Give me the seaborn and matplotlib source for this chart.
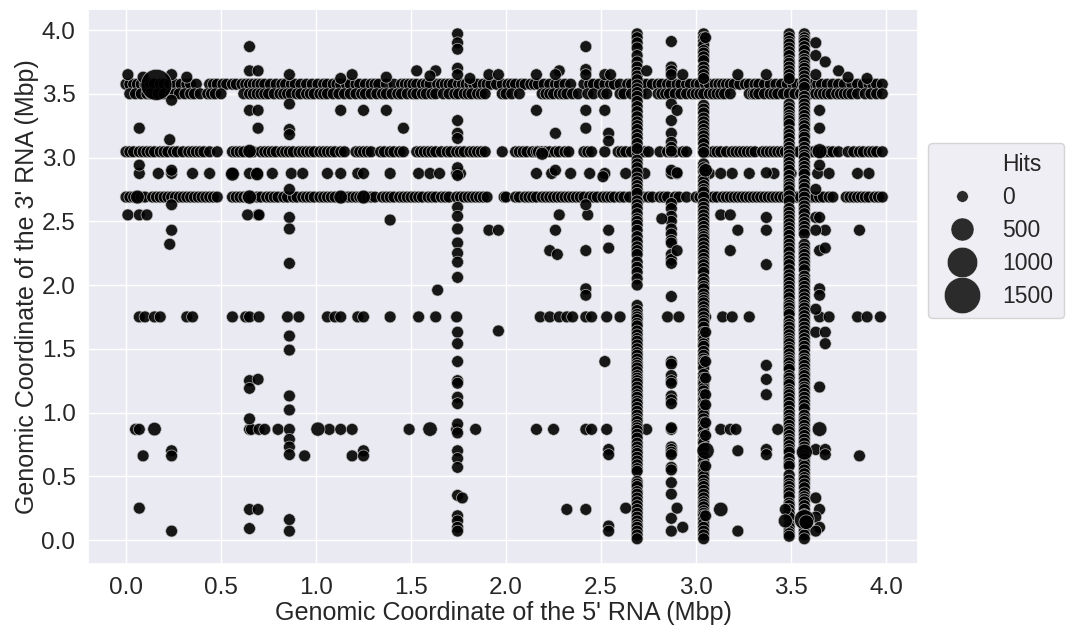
import matplotlib
matplotlib.use("Agg")
import matplotlib.pyplot as plt
from matplotlib.lines import Line2D
import pandas as pd
import seaborn as sns

# horizontal bands: x positions (Mbp) at a fixed 3' coordinate
band_357 = [0.0,.02,.04,.06,.08,.10,.13,.15,.18,.20,.23,.26,.29,.32,.34,.37,.44,.46,.48,.51,.53,.56,.58,.61,.63,.65,.67,.69,.71,.73,.76,.79,.82,.84,.87,.89,.92,.95,.98,1.01,1.04,1.06,1.09,1.11,1.13,1.16,1.18,1.21,1.23,1.26,1.29,1.31,1.33,1.37,1.41,1.45,1.47,1.49,1.51,1.53,1.56,1.58,1.60,1.64,1.66,1.68,1.70,1.72,1.75,1.77,1.79,1.81,1.83,1.85,1.88,1.90,1.92,1.95,1.98,2.01,2.03,
            2.05,2.08,2.10,2.13,2.15,2.17,2.20,2.23,2.26,2.28,2.31,2.34,2.41,2.44,2.46,2.49,2.52,2.55,2.57,2.60,2.64,2.66,2.69,2.72,2.74,2.77,2.80,2.82,2.85,2.87,2.90,2.92,2.95,2.97,3.00,3.02,3.05,3.07,3.10,3.12,3.14,3.16,3.18,3.20,3.23,3.26,3.28,3.31,3.33,3.36,3.39,3.42,3.45,3.48,3.51,3.53,3.56,3.59,3.61,3.64,3.66,3.69,3.72,3.75,3.78,3.82,3.85,3.88,3.91,3.93,3.95,3.98]
band_350 = [.02,.05,.08,.11,.13,.17,.20,.24,.26,.28,.31,.34,.36,.39,.43,.45,.47,.50,.62,.65,.67,.69,.71,.73,.75,.78,.81,.83,.85,.87,.90,.92,.95,.97,.99,1.02,1.04,1.06,1.09,1.12,1.15,1.18,1.21,1.24,1.26,1.29,1.32,1.35,1.37,1.40,1.43,1.45,1.48,1.51,1.53,1.56,1.58,1.61,1.63,1.67,1.70,1.73,1.75,1.78,1.80,1.82,1.85,1.87,1.89,1.98,2.0,2.03,
            2.07,2.19,2.21,2.23,2.25,2.28,2.30,2.32,2.35,2.38,2.43,2.46,2.51,2.53,2.60,2.62,2.66,2.69,2.71,2.74,2.80,2.82,2.84,2.86,2.89,2.92,2.95,2.98,3.00,3.02,3.04,3.07,3.09,3.11,3.13,3.15,3.18,3.28,3.30,3.31,3.33,3.36,3.39,3.41,3.43,3.46,3.49,3.52,3.55,3.57,3.60,3.63,3.65,3.67,3.69,3.71,3.74,3.76,3.78,3.80,3.82,3.85,3.89,3.92,3.95,3.98]
band_304 = [0,.02,.04,.07,.09,.11,.13,.15,.18,.20,.22,.25,.27,.30,.33,.35,.37,.39,.41,.44,.48,.56,.58,.60,.62,.65,.67,.71,.73,.75,.77,.79,.82,.84,.86,.88,.91,.93,.95,.97,.99,1.02,1.04,1.06,1.08,1.10,1.13,1.15,1.21,1.23,1.25,1.27,1.29,1.34,1.36,1.39,1.41,1.44,1.46,1.53,1.55,1.57,1.59,1.61,1.63,1.66,1.69,1.71,1.74,1.76,1.78,1.81,1.83,1.85,1.87,1.89,1.98,
            2.05,2.07,2.09,2.11,2.14,2.16,2.17,2.19,2.21,2.23,2.26,2.28,2.31,2.33,2.41,2.43,2.45,2.52,2.59,2.61,2.63,2.66,2.69,2.71,2.73,2.75,2.81,2.85,2.87,2.89,2.93,2.95,3.04,3.06,3.09,3.11,3.13,3.16,3.19,3.21,3.23,3.25,3.27,3.29,3.31,3.35,3.37,3.39,3.41,3.43,3.45,3.47,3.49,3.51,3.54,3.57,3.60,3.62,3.64,3.66,3.68,3.70,3.72,3.75,3.80,3.83,3.86,3.88,3.91,3.93,3.95,3.98]
band_287 = [.07,.17,.24,.35,.44,.56,.65,.69,.77,.87,.93,1.06,1.13,1.22,1.25,1.39,1.54,1.60,1.65,1.74,1.76,
            2.16,2.24,2.34,2.44,2.52,2.63,2.69,2.73,2.87,2.90,3.05,3.07,3.13,3.19,3.28,3.41,3.50,3.57,3.64,3.70,3.85,3.91]
band_269 = [0,.02,.04,.06,.08,.10,.14,.16,.18,.20,.22,.24,.26,.28,.30,.32,.34,.36,.38,.40,.42,.44,.46,.48,.56,.58,.60,.62,.64,.66,.69,.71,.74,.76,.78,.80,.83,.85,.88,.90,.93,.95,.97,.99,1.02,1.04,1.06,1.08,1.10,1.13,1.15,1.17,1.19,1.21,1.23,1.25,1.27,1.29,1.31,1.35,1.37,1.39,1.41,1.44,1.46,1.48,1.50,1.52,1.54,1.56,1.59,1.61,1.63,1.66,1.68,1.70,1.74,1.76,1.78,1.80,1.82,1.84,1.86,1.88,1.90,1.99,
            2.0,2.05,2.07,2.10,2.12,2.14,2.16,2.19,2.21,2.23,2.25,2.27,2.29,2.31,2.33,2.35,2.37,2.39,2.41,2.44,2.46,2.48,2.51,2.53,2.55,2.57,2.60,2.62,2.65,2.69,2.72,2.75,2.77,2.81,2.83,2.85,2.89,2.91,2.95,3.0,3.02,3.04,3.06,3.09,3.11,3.14,3.16,3.18,3.20,3.22,3.24,3.26,3.28,3.30,3.32,3.34,3.36,3.38,3.40,3.42,3.44,3.46,3.48,3.51,3.53,3.55,3.57,3.59,3.61,3.63,3.65,3.67,3.70,3.72,3.79,3.81,3.83,3.85,3.87,3.89,3.91,3.94,3.96,3.98]
band_175 = [.07,.10,.15,.18,.32,.35,.56,.63,.65,.70,.85,.91,1.06,1.10,1.13,1.22,1.25,1.39,1.54,1.63,1.74,
            2.18,2.23,2.28,2.32,2.35,2.42,2.45,2.53,2.60,2.69,2.85,2.91,3.05,3.14,3.19,3.28,3.57,3.65,3.70,3.85,3.90,3.97]
band_087 = [.05,.07,.65,.66,.70,.73,.80,.86,1.07,1.13,1.19,1.49,1.74,1.84,
            2.16,2.25,2.42,2.45,2.53,2.69,2.74,2.87,3.13,3.18,3.21,3.43]

# vertical bands: y positions (Mbp) at a fixed 5' coordinate
col_269 = [3.97,3.94,3.90,3.86,3.80,3.75,3.71,3.67,3.64,3.61,3.57,3.54,3.51,3.48,3.44,3.40,3.36,3.32,3.28,3.25,3.22,3.18,3.15,3.11,3.07,2.98,2.95,2.92,2.88,2.84,2.81,2.78,2.75,2.72,2.66,2.63,2.60,2.56,2.52,2.50,2.47,2.43,2.38,2.34,2.30,2.27,2.24,2.18,2.14,2.10,2.05,2.0,
           1.84,1.80,1.77,1.75,1.73,1.70,1.68,1.64,1.61,1.58,1.56,1.53,1.50,1.47,1.45,1.42,1.39,1.37,1.35,1.32,1.29,1.27,1.25,1.23,1.20,1.17,1.14,1.12,1.09,1.07,1.04,1.01,.98,.95,.93,.90,.88,.86,.83,.80,.76,.73,.70,.68,.65,.62,.59,.56,.54,.46,.44,.42,.38,.36,.33,.30,.27,.24,.21,.18,.15,.12,.10,.07,.04,.01]
col_287 = [3.91,3.71,3.68,3.65,3.42,3.29,3.19,3.12,3.08,3.05,2.90,2.64,2.60,2.54,2.50,2.44,2.40,2.35,2.33,2.24,2.20,2.17,
           1.91,1.40,1.38,1.29,1.25,1.23,1.13,1.10,1.07,.88,.73,.71,.69,.67,.57,.55,.45,.36,.17,.07]
col_304 = [3.97,3.94,3.91,3.88,3.84,3.82,3.79,3.76,3.71,3.68,3.65,3.62,3.41,3.38,3.35,3.31,3.28,3.25,3.22,3.19,3.17,3.14,3.11,3.07,3.04,2.95,2.92,2.89,2.84,2.81,2.78,2.75,2.73,2.69,2.64,2.61,2.58,2.55,2.52,2.49,2.46,2.43,2.40,2.38,2.36,2.33,2.30,2.27,2.24,2.21,2.18,2.16,2.13,2.10,2.05,2.02,1.99,
           1.97,1.93,1.90,1.88,1.86,1.83,1.80,1.78,1.75,1.72,1.70,1.67,1.63,1.60,1.57,1.54,1.52,1.48,1.45,1.42,1.40,1.38,1.35,1.30,1.27,1.24,1.22,1.19,1.17,1.14,1.11,1.09,1.06,1.04,1.01,.98,.95,.92,.89,.86,.82,.78,.76,.72,.65,.62,.58,.55,.53,.50,.47,.44,.42,.39,.36,.33,.30,.28,.26,.23,.21,.19,.16,.13,.10,.07,.04,.01]
col_349 = [3.97,3.94,3.91,3.89,3.86,3.83,3.80,3.76,3.74,3.71,3.68,3.65,3.62,3.42,3.39,3.36,3.33,3.31,3.29,3.26,3.21,3.18,3.15,3.11,3.08,3.05,3.02,2.99,2.96,2.93,2.90,2.86,2.82,2.79,2.77,2.74,2.70,2.66,2.60,2.57,2.54,2.51,2.48,2.45,2.42,2.39,2.35,2.32,2.29,2.26,2.22,2.19,2.16,2.12,2.08,2.05,2.02,1.99,
           1.96,1.93,1.90,1.86,1.84,1.82,1.79,1.77,1.72,1.69,1.67,1.64,1.61,1.58,1.56,1.54,1.51,1.49,1.46,1.43,1.41,1.39,1.36,1.34,1.29,1.27,1.24,1.22,1.18,1.16,1.14,1.11,1.08,1.05,1.01,.98,.95,.93,.90,.87,.85,.82,.79,.77,.74,.71,.69,.64,.60,.58,.51,.47,.44,.42,.39,.37,.34,.29,.27,.24,.21,.18,.12,.10,.07,.05,.03]
col_357 = [3.97,3.94,3.92,3.90,3.87,3.84,3.80,3.77,3.75,3.72,3.70,3.67,3.64,3.61,3.58,3.55,3.48,3.45,3.42,3.39,3.36,3.33,3.30,3.27,3.25,3.22,3.18,3.16,3.12,3.08,3.05,3.02,3.00,2.96,2.93,2.90,2.87,2.82,2.79,2.76,2.72,2.69,2.65,2.62,2.59,2.56,2.52,2.49,2.46,2.43,2.40,2.32,2.29,2.26,2.24,2.21,2.18,2.15,2.12,2.07,2.04,2.02,1.99,
           1.96,1.93,1.90,1.87,1.84,1.82,1.79,1.76,1.73,1.70,1.67,1.64,1.61,1.58,1.55,1.52,1.49,1.45,1.42,1.40,1.37,1.34,1.31,1.29,1.26,1.23,1.20,1.18,1.15,1.12,1.09,1.06,1.03,.98,.95,.93,.90,.87,.85,.82,.79,.76,.73,.70,.66,.64,.61,.58,.55,.52,.49,.47,.44,.41,.37,.34,.32,.30,.27,.24,.20,.12,.10,.07,.04,.01]
col_175 = [3.97,3.90,3.85,3.70,3.65,3.29,3.19,3.15,2.92,2.86,2.61,2.54,2.44,2.33,2.25,2.18,2.06,
           1.63,1.54,1.40,1.25,1.23,1.12,1.07,.91,.84,.70,.64,.57,.35,.19,.15,.10,.07]
col_086 = [3.65,3.42,3.22,3.18,2.75,2.53,2.44,2.17,1.60,1.49,1.13,1.02,.79,.73,.67,.16,.07]
col_065 = [3.87,3.68,3.37,1.25,1.19,.95,.24,.09]
col_069 = [3.68,3.37,3.23,2.55,1.26,.24]

# scattered single hits
misc_x = [.01,.09,.24,.32,.24,.07,.23,.07,.24,.01,.07,.11,.24,.24,.23,.64,.70,1.39,1.13,1.19,1.37,1.53,1.63,1.60,1.13,1.25,1.37,1.46,1.81,1.91,1.96,1.91,1.96,1.64,1.96,
          2.16,2.28,2.26,2.42,2.42,2.42,2.52,2.55,2.16,2.42,2.52,2.26,2.42,2.54,2.54,2.74,3.22,3.37,3.63,3.63,3.68,3.75,3.80,3.90,3.63,3.65,3.65,3.65,3.63,
          2.28,2.43,2.42,3.13,3.18,3.37,3.63,3.65,2.26,2.54,3.22,3.37,3.68,3.63,3.86,2.23,2.27,2.42,2.54,3.18,3.37,3.65,3.68,2.42,3.65,
          2.42,3.65,3.63,3.63,3.68,3.68,2.52,3.37,3.37,3.37,3.65,2.54,2.54,3.22,3.37,3.37,3.63,3.68,3.68,3.86,2.32,2.42,2.63,2.54,2.54,3.22,
          3.63,3.65,3.63,3.65,3.63,3.47,2.26,3.37,2.51,2.82,2.90,2.93,2.90,2.90,2.90,2.93,
          .07,.24,.09,.24,.24,.94,1.19,1.25,1.25,1.77,3.05,3.05,3.05,3.05,3.05,3.05,3.05,3.05,3.05,3.05]
misc_y = [3.65,3.63,3.65,3.63,3.45,3.23,3.14,2.94,2.90,2.55,2.55,2.55,2.63,2.43,2.32,2.55,2.55,2.51,3.62,3.65,3.63,3.68,3.68,3.64,3.37,3.37,3.37,3.23,3.62,3.65,3.65,2.43,2.43,1.96,1.64,
          3.65,3.68,3.65,3.87,3.69,3.65,3.65,3.65,3.37,3.37,3.37,3.19,3.23,3.19,3.13,3.68,3.65,3.65,3.90,3.80,3.75,3.68,3.63,3.62,3.65,3.37,3.23,2.94,2.75,
          2.55,2.55,2.63,2.55,2.55,2.53,2.53,2.53,2.43,2.43,2.43,2.43,2.43,2.43,2.43,2.27,2.24,2.27,2.29,2.27,2.16,2.27,2.29,1.97,1.97,
          1.92,1.92,1.81,1.63,1.63,1.54,1.40,1.37,1.26,1.14,1.20,.71,.67,.70,.71,.67,.71,.71,.67,.66,.24,.24,.25,.11,.07,.07,
          .33,.24,.18,.10,.07,.24,2.90,2.88,2.85,2.52,3.37,3.65,2.88,2.27,.25,.10,
          .25,.07,.66,.70,.66,.66,.66,.70,.66,.33,3.94,1.63,1.40,1.27,1.14,1.06,.92,.82,.58,.19]

# larger points
large_x = [.16,.65,.06,1.13,1.25,.56,.69,.15,1.01,1.60,3.65,3.05,3.57,3.57,3.13,3.47,3.65,2.19,.65,3.05,3.58]
large_y = [3.57,3.05,2.69,2.69,2.69,2.87,2.87,.87,.87,.87,.87,.70,.69,.16,.24,.15,3.05,3.03,2.69,2.90,.14]
large_hits = [1050,60,70,70,70,70,50,60,80,90,100,200,150,330,90,80,110,40,80,60,100]

base_hits = 5


def mark_size(h):
    return 70 + 0.41 * h


xs, ys, hits = [], [], []
for yval, vals in [(3.575, band_357), (3.50, band_350), (3.045, band_304), (2.875, band_287),
                   (2.69, band_269), (1.75, band_175), (.868, band_087)]:
    xs += vals; ys += [yval] * len(vals); hits += [base_hits] * len(vals)
for xval, vals in [(2.69, col_269), (2.87, col_287), (3.04, col_304), (3.49, col_349),
                   (3.57, col_357), (1.745, col_175), (.86, col_086), (.65, col_065), (.695, col_069)]:
    ys += vals; xs += [xval] * len(vals); hits += [base_hits] * len(vals)
xs += misc_x; ys += misc_y; hits += [base_hits] * len(misc_x)
xs += large_x; ys += large_y; hits += large_hits

df = pd.DataFrame({"x": xs, "y": ys, "Hits": hits})

sns.set_theme(style="darkgrid")
plt.rcParams["font.family"] = ["Liberation Sans", "DejaVu Sans"]

W, H = 1069, 627
fig = plt.figure(figsize=(W / 100, H / 100), dpi=100)
ax = fig.add_axes([88 / W, 1 - 564 / H, 830 / W, 555 / H])

size_map = {h: mark_size(h) for h in sorted(set(hits))}
sns.scatterplot(data=df, x="x", y="y", size="Hits", sizes=size_map, color="black",
                alpha=0.9, edgecolor="#c4c4c4", linewidth=0.5, legend=False, ax=ax)

ax.set_xlim(-0.2, 4.168)
ax.set_ylim(-0.188, 4.165)
ax.set_xticks([0, .5, 1, 1.5, 2, 2.5, 3, 3.5, 4])
ax.set_yticks([0, .5, 1, 1.5, 2, 2.5, 3, 3.5, 4])
ax.tick_params(labelsize=17.5, pad=3, labelcolor=".15")
ax.set_xlabel("Genomic Coordinate of the 5' RNA (Mbp)", fontsize=18.1, labelpad=1.5)
ax.set_ylabel("Genomic Coordinate of the 3' RNA (Mbp)", fontsize=18, labelpad=2)

legend_hits = [0, 500, 1000, 1500]
handles = [Line2D([], [], linestyle="", marker="o", color="black", alpha=0.82,
                  markeredgecolor="white", markeredgewidth=0.4,
                  markersize=mark_size(h) ** 0.5, label=str(h)) for h in legend_hits]
title = Line2D([], [], linestyle="", label="Hits")
ax.legend(handles=[title] + handles, loc="center left", bbox_to_anchor=(928 / W, 1 - 230.5 / H),
          bbox_transform=fig.transFigure, fontsize=16.5, frameon=True, labelspacing=0.43,
          borderaxespad=0, handlelength=2, handletextpad=0.78, borderpad=0.47)
fig.savefig("out.png", dpi=100)
